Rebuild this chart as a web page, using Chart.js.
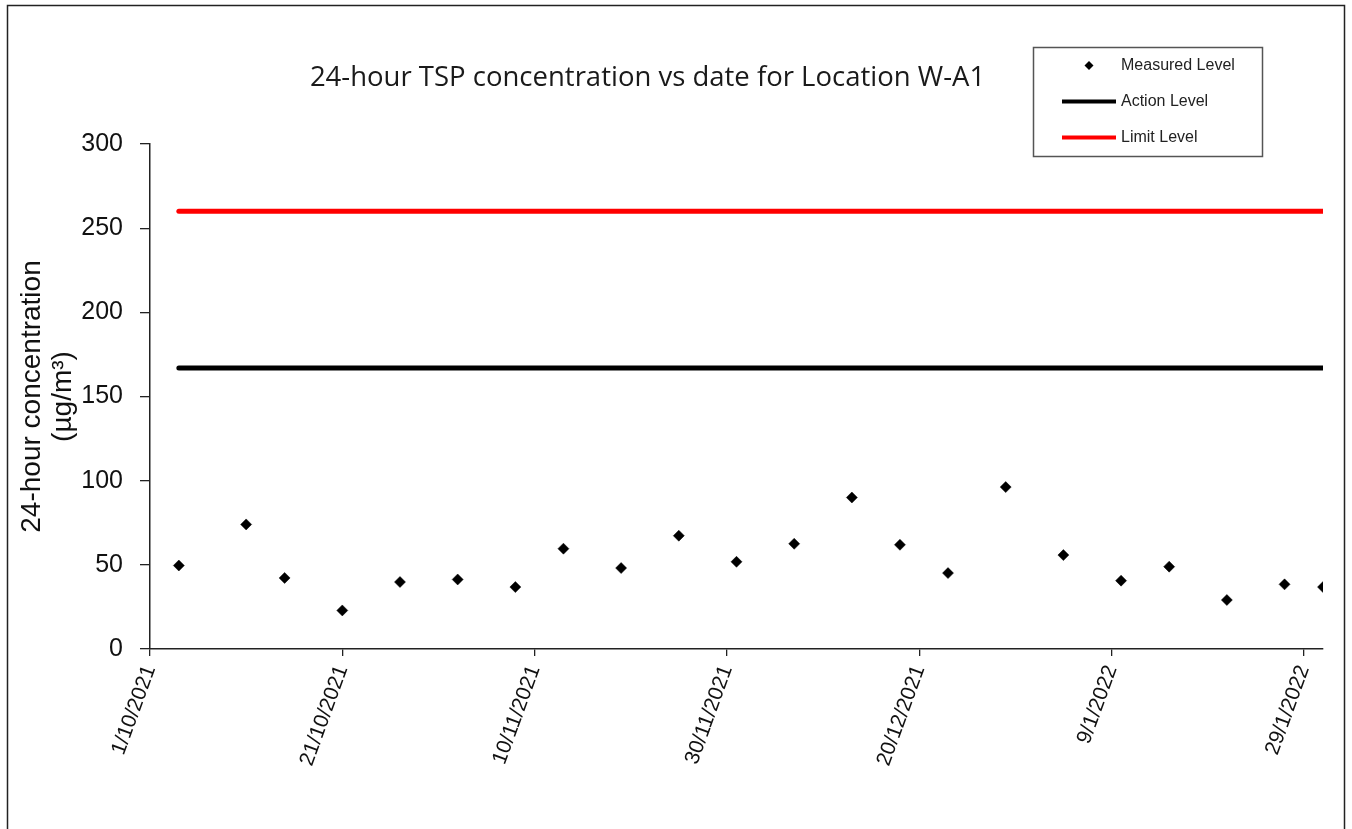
<!DOCTYPE html>
<html>
<head>
<meta charset="utf-8">
<script src="https://cdn.jsdelivr.net/npm/chart.js@4.4.1/dist/chart.umd.min.js"></script>
<style>
  html, body { margin: 0; padding: 0; background: #ffffff; }
  #wrap { width: 1352px; height: 829px; position: relative; }
  canvas { display: block; }
</style>
</head>
<body>
<div id="wrap"><canvas id="c" width="1352" height="829"></canvas></div>
<script>
// ---------------- data ----------------
const chartTitle = '24-hour TSP concentration vs date for Location W-A1';
const yAxisTitle = ['24-hour concentration', '(µg/m³)'];
const seriesNames = ['Measured Level', 'Action Level', 'Limit Level'];
const axisStartDate = '1/10/2021';
const axisEndDate = '31/1/2022';
const measuredDates = ['4/10/2021', '11/10/2021', '15/10/2021', '21/10/2021', '27/10/2021',
  '2/11/2021', '8/11/2021', '13/11/2021', '19/11/2021', '25/11/2021', '1/12/2021',
  '7/12/2021', '13/12/2021', '18/12/2021', '23/12/2021', '29/12/2021', '4/1/2022',
  '10/1/2022', '15/1/2022', '21/1/2022', '27/1/2022', '31/1/2022'];
const measuredValues = [49.6, 74.0, 42.2, 22.9, 39.8, 41.3, 36.8, 59.6, 48.1, 67.3, 51.8,
  62.5, 90.0, 61.9, 45.1, 96.2, 55.8, 40.6, 48.9, 29.1, 38.4, 36.8];
const levelDates = ['4/10/2021', '31/1/2022'];
const actionLevel = [167, 167];
const limitLevel = [260, 260];
const xTickLabels = ['1/10/2021', '21/10/2021', '10/11/2021', '30/11/2021', '20/12/2021', '9/1/2022', '29/1/2022'];
const yMin = 0, yMax = 300, yStep = 50;

// ---------------- helpers ----------------
function toUTC(s) { const [d, m, y] = s.split('/').map(Number); return Date.UTC(y, m - 1, d); }
const base = toUTC(axisStartDate);
function dayIndex(s) { return Math.round((toUTC(s) - base) / 86400000); }
const tickLabelByDay = new Map(xTickLabels.map(s => [dayIndex(s), s]));
function pts(dates, vals) { return dates.map((d, i) => ({ x: dayIndex(d), y: vals[i] })); }

const colors = { measured: '#000000', action: '#000000', limit: '#ff0000' };

// ---------------- plugins ----------------
const decor = {
  id: 'decor',
  afterDraw(chart) {
    const ctx = chart.ctx;
    ctx.save();
    // outer frame
    ctx.strokeStyle = '#222';
    ctx.lineWidth = 1.5;
    ctx.strokeRect(7.5, 5.5, 1337, 840);
    // title
    ctx.fillStyle = '#1a1a1a';
    ctx.font = '27.5px "Open Sans", "Liberation Sans", sans-serif';
    ctx.textAlign = 'center';
    ctx.textBaseline = 'middle';
    ctx.fillText(chartTitle, 647.5, 78);
    // legend
    ctx.strokeStyle = '#555';
    ctx.lineWidth = 1.5;
    ctx.strokeRect(1033.5, 47.5, 229, 109);
    const rows = [65.5, 101.5, 137.5];
    const ds = chart.data.datasets;
    ctx.font = '16px "Liberation Sans", Arial, sans-serif';
    ctx.textAlign = 'left';
    ctx.textBaseline = 'middle';
    ds.forEach((d, i) => {
      const y = rows[i];
      if (d.showLine === false) {
        ctx.fillStyle = d.backgroundColor;
        ctx.beginPath();
        ctx.moveTo(1089, y - 4.5); ctx.lineTo(1093.5, y); ctx.lineTo(1089, y + 4.5); ctx.lineTo(1084.5, y);
        ctx.closePath(); ctx.fill();
      } else {
        ctx.strokeStyle = d.borderColor;
        ctx.lineWidth = 4;
        ctx.lineCap = 'butt';
        ctx.beginPath(); ctx.moveTo(1062, y); ctx.lineTo(1116, y); ctx.stroke();
      }
      ctx.fillStyle = '#222';
      ctx.fillText(d.label, 1121, y);
    });
    ctx.restore();
  }
};

// ---------------- chart ----------------
new Chart(document.getElementById('c'), {
  type: 'scatter',
  data: {
    datasets: [
      {
        label: seriesNames[0],
        data: pts(measuredDates, measuredValues),
        showLine: false,
        pointStyle: 'rectRot',
        pointRadius: 5.5,
        pointBorderWidth: 0.5,
        backgroundColor: colors.measured,
        borderColor: colors.measured,
        order: 0
      },
      {
        label: seriesNames[1],
        data: pts(levelDates, actionLevel),
        showLine: true,
        pointRadius: 0,
        borderWidth: 5,
        borderCapStyle: 'round',
        borderColor: colors.action,
        backgroundColor: colors.action,
        order: 1
      },
      {
        label: seriesNames[2],
        data: pts(levelDates, limitLevel),
        showLine: true,
        pointRadius: 0,
        borderWidth: 5,
        borderCapStyle: 'round',
        borderColor: colors.limit,
        backgroundColor: colors.limit,
        order: 2
      }
    ]
  },
  options: {
    responsive: false,
    animation: false,
    devicePixelRatio: 1,
    layout: { padding: { left: 10, right: 29, top: 144, bottom: 0 } },
    plugins: {
      legend: { display: false },
      title: { display: false },
      tooltip: { enabled: false }
    },
    scales: {
      x: {
        type: 'linear',
        min: dayIndex(axisStartDate),
        max: dayIndex(axisEndDate),
        afterBuildTicks(scale) { scale.ticks = xTickLabels.map(s => ({ value: dayIndex(s) })); },
        afterFit(scale) { scale.height = 180; },
        grid: { drawOnChartArea: false, drawTicks: true, tickLength: 7, color: '#222', lineWidth: 1.3 },
        border: { color: '#222', width: 1.5 },
        ticks: {
          autoSkip: false,
          minRotation: 70,
          maxRotation: 70,
          padding: 6,
          color: '#111',
          font: { family: '"Liberation Sans", Arial, sans-serif', size: 21 },
          callback: (v) => tickLabelByDay.get(v) || ''
        }
      },
      y: {
        min: yMin,
        max: yMax,
        afterFit(scale) { scale.width = 140; },
        grid: { drawOnChartArea: false, drawTicks: true, tickLength: 10, color: '#222', lineWidth: 1.3 },
        border: { color: '#222', width: 1.5 },
        ticks: {
          stepSize: yStep,
          padding: 17,
          color: '#111',
          font: { family: '"Liberation Sans", Arial, sans-serif', size: 25 }
        },
        title: {
          display: true,
          text: yAxisTitle,
          color: '#111',
          padding: { top: 7, bottom: 0 },
          font: { family: '"Liberation Sans", Arial, sans-serif', size: 28, lineHeight: 1.1 }
        }
      }
    }
  },
  plugins: [decor]
});
</script>
</body>
</html>
